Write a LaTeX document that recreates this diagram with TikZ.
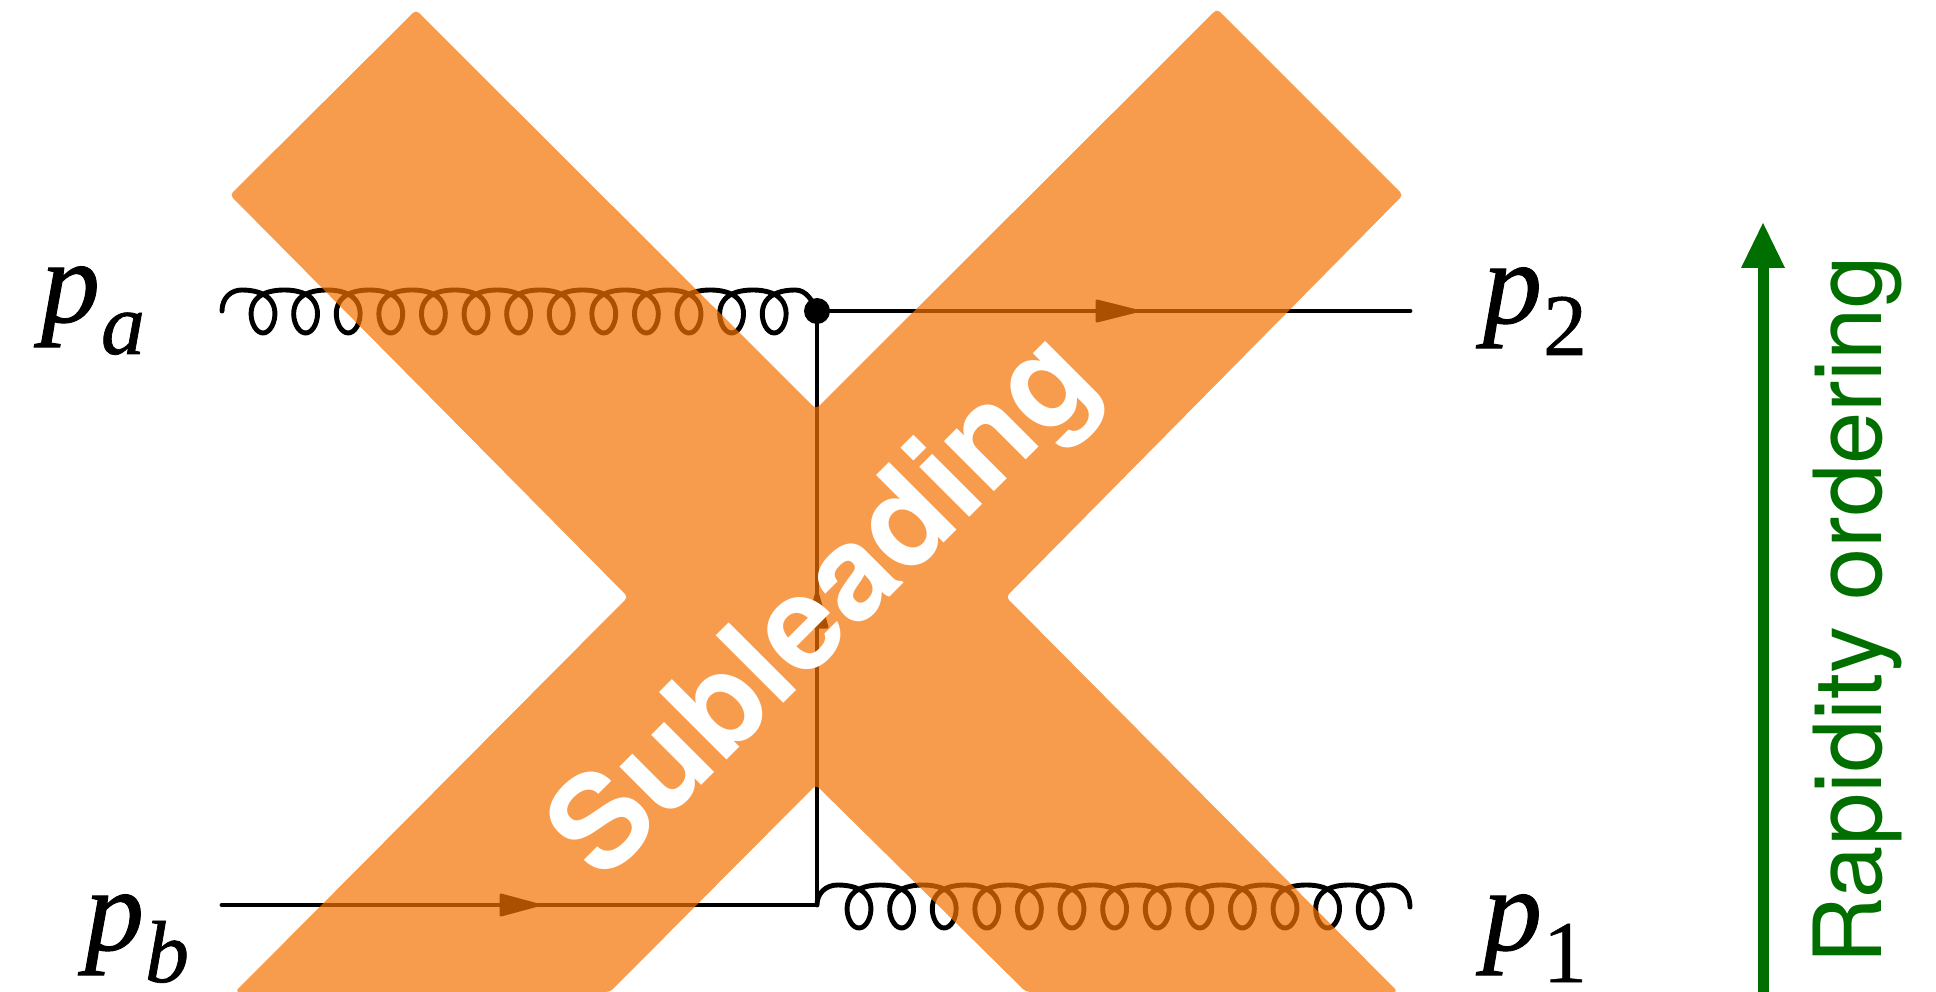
\documentclass[tikz,border=0pt]{standalone}
\usepackage{fontspec}
\setmainfont{Liberation Serif}
\newfontfamily\labelsans{TeX Gyre Heros}
\newfontfamily\momfont[ItalicFeatures={FakeBold=0.8},FakeBold=0.6]{Liberation Serif}
\definecolor{xorange}{RGB}{244,113,0}
\definecolor{rapgreen}{RGB}{0,111,0}
\tikzset{
  feyn/.style={line width=4.9pt,line cap=round,line join=round,black},
  momlabel/.style={anchor=base west,inner sep=0pt,outer sep=0pt,black},
  flowtip/.style={fill=black,draw=black,line width=3pt,line join=round},
}
\newcommand{\momtxt}[1]{\momfont\fontsize{118}{118}\selectfont\textit{p}\kern1pt\raisebox{-32pt}{\fontsize{88}{88}\selectfont #1}}
\begin{document}
\begin{tikzpicture}[x=1pt,y=-1pt]
\useasboundingbox (0,0) rectangle (1936,992);
% vertices
\coordinate (va) at (222,311);
\coordinate (vb) at (222,905);
\coordinate (top) at (817,311);
\coordinate (bot) at (817,905);
\coordinate (r2) at (1410,311);
\coordinate (r1) at (1410,905);
% gluons
\draw[feyn] (va) .. controls (222,298) and (231,290) .. (241.7,290)
  plot[smooth,domain=0:81.68,samples=500,variable=\t] ({241.7+6.78*\t+21.5*sin(\t r)},{309-21.5*cos(\t r)+2.5*cos(2*\t r)})
  .. controls (806,290) and (812,300) .. (top);
\draw[feyn] (bot) .. controls (817,893) and (826,885) .. (837.7,885)
  plot[smooth,domain=0:81.68,samples=500,variable=\t] ({837.7+6.78*\t+21.5*sin(\t r)},{904-21.5*cos(\t r)+2.5*cos(2*\t r)})
  .. controls (1402,885) and (1410,893) .. (1410,907);
% fermion lines
\draw[feyn] (vb) -- (bot) -- (top) -- (r2);
\coordinate (tipb) at (538,905);
\coordinate (tipt) at (1137,311);
\coordinate (tipv) at (817,592);
\draw[flowtip] (tipb) -- (501,895) -- (501,915) -- cycle;
\draw[flowtip] (tipt) -- (1097,301) -- (1097,321) -- cycle;
\draw[flowtip] (tipv) -- (807,627) -- (827,627) -- cycle;
\fill[black] (top) circle (13);
% X band
\fill[xorange,opacity=0.7,rounded corners=4pt] (416,10) -- (816,409) -- (1217,9) -- (1403,195) -- (1006,597)
  -- (1398,992) -- (1026,992) -- (816,785) -- (610,992) -- (235,992) -- (628,597) -- (230,195) -- cycle;
\node[rotate=45,white,inner sep=0pt] (sub) at (828,610) {\labelsans\bfseries\fontsize{131}{131}\selectfont Subleading};
% labels
\node[momlabel] (pa) at (41,322) {\momtxt{\textit{a}}};
\node[momlabel] (pb) at (85,950) {\momtxt{\textit{b}}};
\node[momlabel] (p2) at (1483,323) {\momtxt{2}};
\node[momlabel] (p1) at (1483,950) {\momtxt{1}};
% rapidity
\coordinate (rapbase) at (1763,992);
\coordinate (raptip) at (1763,223);
\draw[rapgreen,line width=11pt] (rapbase) -- (1763,262);
\fill[rapgreen] (raptip) -- (1741,268) -- (1785,268) -- cycle;
\node[rotate=90,anchor=base west,inner sep=0pt,text=rapgreen] (rap) at (1881,965) {\labelsans\fontsize{94}{94}\selectfont Rapidity ordering};
\end{tikzpicture}
\end{document}
